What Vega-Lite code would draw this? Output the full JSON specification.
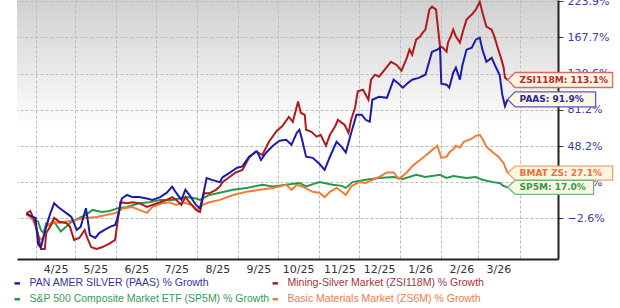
{
  "$schema": "https://vega.github.io/schema/vega-lite/v6.json",
  "width": 541,
  "height": 259,
  "autosize": {"type": "none"},
  "padding": {"left": 17, "top": 0, "right": 62, "bottom": 49},
  "background": "#ffffff",
  "config": {
    "view": {
      "stroke": null,
      "fill": {"gradient": "linear", "x1": 0, "y1": 0, "x2": 0, "y2": 1,
        "stops": [{"offset": 0, "color": "#d0d0d0"}, {"offset": 0.5, "color": "#ffffff"}, {"offset": 1, "color": "#ffffff"}]}
    }
  },
  "datasets": {
    "series": [
      {"s":"SP5M","t":"2025-03-25","v":0},{"s":"SP5M","t":"2025-03-30","v":-2.4},{"s":"SP5M","t":"2025-04-03","v":-4.8},{"s":"SP5M","t":"2025-04-05","v":-10},{"s":"SP5M","t":"2025-04-07","v":-12},{"s":"SP5M","t":"2025-04-09","v":-6},{"s":"SP5M","t":"2025-04-12","v":-7},{"s":"SP5M","t":"2025-04-15","v":-4.8},{"s":"SP5M","t":"2025-04-20","v":-11},{"s":"SP5M","t":"2025-04-24","v":-8},{"s":"SP5M","t":"2025-04-28","v":-4.8},{"s":"SP5M","t":"2025-05-04","v":-2.4},{"s":"SP5M","t":"2025-05-09","v":-0.6},{"s":"SP5M","t":"2025-05-14","v":2.4},{"s":"SP5M","t":"2025-05-21","v":1.2},{"s":"SP5M","t":"2025-05-27","v":1.8},{"s":"SP5M","t":"2025-06-02","v":3.5},{"s":"SP5M","t":"2025-06-09","v":4.2},{"s":"SP5M","t":"2025-06-18","v":6.6},{"s":"SP5M","t":"2025-06-26","v":7.2},{"s":"SP5M","t":"2025-07-04","v":8.7},{"s":"SP5M","t":"2025-07-13","v":8.7},{"s":"SP5M","t":"2025-07-24","v":10.5},{"s":"SP5M","t":"2025-07-31","v":9.6},{"s":"SP5M","t":"2025-08-03","v":8.7},{"s":"SP5M","t":"2025-08-10","v":11.9},{"s":"SP5M","t":"2025-08-18","v":13.4},{"s":"SP5M","t":"2025-08-28","v":15.3},{"s":"SP5M","t":"2025-09-07","v":16.6},{"s":"SP5M","t":"2025-09-19","v":18.7},{"s":"SP5M","t":"2025-09-27","v":17.6},{"s":"SP5M","t":"2025-10-07","v":18.7},{"s":"SP5M","t":"2025-10-17","v":20},{"s":"SP5M","t":"2025-10-22","v":17.6},{"s":"SP5M","t":"2025-11-01","v":20.6},{"s":"SP5M","t":"2025-11-11","v":18.7},{"s":"SP5M","t":"2025-11-18","v":18},{"s":"SP5M","t":"2025-11-21","v":16.6},{"s":"SP5M","t":"2025-11-26","v":20.6},{"s":"SP5M","t":"2025-12-06","v":22.2},{"s":"SP5M","t":"2025-12-16","v":23.5},{"s":"SP5M","t":"2025-12-27","v":24.2},{"s":"SP5M","t":"2026-01-03","v":22.9},{"s":"SP5M","t":"2026-01-13","v":25.8},{"s":"SP5M","t":"2026-01-20","v":24.2},{"s":"SP5M","t":"2026-01-31","v":25.8},{"s":"SP5M","t":"2026-02-05","v":23.5},{"s":"SP5M","t":"2026-02-10","v":24.9},{"s":"SP5M","t":"2026-02-20","v":23.5},{"s":"SP5M","t":"2026-02-27","v":24.2},{"s":"SP5M","t":"2026-03-04","v":22.2},{"s":"SP5M","t":"2026-03-12","v":20.6},{"s":"SP5M","t":"2026-03-17","v":20},{"s":"SP5M","t":"2026-03-20","v":17.9},{"s":"SP5M","t":"2026-03-23","v":17.0},
      {"s":"BMAT","t":"2025-03-25","v":0},{"s":"BMAT","t":"2025-03-30","v":-3.7},{"s":"BMAT","t":"2025-04-01","v":-7.4},{"s":"BMAT","t":"2025-04-03","v":-14.6},{"s":"BMAT","t":"2025-04-06","v":-16.6},{"s":"BMAT","t":"2025-04-09","v":-8},{"s":"BMAT","t":"2025-04-14","v":-4.8},{"s":"BMAT","t":"2025-04-19","v":-5.5},{"s":"BMAT","t":"2025-04-24","v":-4.8},{"s":"BMAT","t":"2025-05-01","v":-3.7},{"s":"BMAT","t":"2025-05-09","v":-2.4},{"s":"BMAT","t":"2025-05-17","v":-1.8},{"s":"BMAT","t":"2025-05-24","v":-0.6},{"s":"BMAT","t":"2025-06-01","v":0.6},{"s":"BMAT","t":"2025-06-06","v":3.5},{"s":"BMAT","t":"2025-06-13","v":4.2},{"s":"BMAT","t":"2025-06-18","v":2.4},{"s":"BMAT","t":"2025-06-24","v":0.6},{"s":"BMAT","t":"2025-06-28","v":4.2},{"s":"BMAT","t":"2025-07-06","v":6.6},{"s":"BMAT","t":"2025-07-11","v":7.2},{"s":"BMAT","t":"2025-07-16","v":5.5},{"s":"BMAT","t":"2025-07-21","v":7.2},{"s":"BMAT","t":"2025-07-28","v":5.5},{"s":"BMAT","t":"2025-08-01","v":2.4},{"s":"BMAT","t":"2025-08-05","v":5.5},{"s":"BMAT","t":"2025-08-10","v":7.2},{"s":"BMAT","t":"2025-08-18","v":8.7},{"s":"BMAT","t":"2025-08-28","v":11.9},{"s":"BMAT","t":"2025-09-07","v":14},{"s":"BMAT","t":"2025-09-17","v":15.3},{"s":"BMAT","t":"2025-09-27","v":16.6},{"s":"BMAT","t":"2025-10-07","v":18.7},{"s":"BMAT","t":"2025-10-11","v":15.3},{"s":"BMAT","t":"2025-10-15","v":18.7},{"s":"BMAT","t":"2025-10-19","v":17.6},{"s":"BMAT","t":"2025-10-27","v":14},{"s":"BMAT","t":"2025-11-01","v":13.4},{"s":"BMAT","t":"2025-11-05","v":10.5},{"s":"BMAT","t":"2025-11-09","v":14},{"s":"BMAT","t":"2025-11-14","v":16.6},{"s":"BMAT","t":"2025-11-19","v":13.4},{"s":"BMAT","t":"2025-11-21","v":11.9},{"s":"BMAT","t":"2025-11-25","v":17.6},{"s":"BMAT","t":"2025-12-01","v":20.6},{"s":"BMAT","t":"2025-12-06","v":20},{"s":"BMAT","t":"2025-12-11","v":22.2},{"s":"BMAT","t":"2025-12-16","v":24.2},{"s":"BMAT","t":"2025-12-22","v":27.5},{"s":"BMAT","t":"2025-12-27","v":27.5},{"s":"BMAT","t":"2025-12-31","v":22.9},{"s":"BMAT","t":"2026-01-06","v":27.5},{"s":"BMAT","t":"2026-01-10","v":32.1},{"s":"BMAT","t":"2026-01-15","v":36.2},{"s":"BMAT","t":"2026-01-20","v":40.3},{"s":"BMAT","t":"2026-01-25","v":44.8},{"s":"BMAT","t":"2026-01-29","v":48.4},{"s":"BMAT","t":"2026-02-01","v":38.6},{"s":"BMAT","t":"2026-02-05","v":39.5},{"s":"BMAT","t":"2026-02-07","v":42.9},{"s":"BMAT","t":"2026-02-10","v":45.5},{"s":"BMAT","t":"2026-02-12","v":48.4},{"s":"BMAT","t":"2026-02-15","v":46.9},{"s":"BMAT","t":"2026-02-18","v":51.8},{"s":"BMAT","t":"2026-02-24","v":54.4},{"s":"BMAT","t":"2026-02-27","v":56.9},{"s":"BMAT","t":"2026-03-02","v":57.8},{"s":"BMAT","t":"2026-03-04","v":54.4},{"s":"BMAT","t":"2026-03-07","v":47.6},{"s":"BMAT","t":"2026-03-12","v":42.9},{"s":"BMAT","t":"2026-03-16","v":39.5},{"s":"BMAT","t":"2026-03-20","v":34.6},{"s":"BMAT","t":"2026-03-22","v":29.4},{"s":"BMAT","t":"2026-03-23","v":27.1},
      {"s":"ZSI118M","t":"2025-03-25","v":0},{"s":"ZSI118M","t":"2025-03-28","v":1.8},{"s":"ZSI118M","t":"2025-03-31","v":-3.7},{"s":"ZSI118M","t":"2025-04-03","v":-13.3},{"s":"ZSI118M","t":"2025-04-05","v":-22.9},{"s":"ZSI118M","t":"2025-04-08","v":-22.9},{"s":"ZSI118M","t":"2025-04-09","v":-12},{"s":"ZSI118M","t":"2025-04-12","v":-8},{"s":"ZSI118M","t":"2025-04-15","v":-2.4},{"s":"ZSI118M","t":"2025-04-19","v":-4.8},{"s":"ZSI118M","t":"2025-04-24","v":-5.5},{"s":"ZSI118M","t":"2025-04-27","v":-8},{"s":"ZSI118M","t":"2025-04-30","v":-16.6},{"s":"ZSI118M","t":"2025-05-04","v":-15.3},{"s":"ZSI118M","t":"2025-05-08","v":-10},{"s":"ZSI118M","t":"2025-05-10","v":-15.3},{"s":"ZSI118M","t":"2025-05-13","v":-21.7},{"s":"ZSI118M","t":"2025-05-17","v":-22.9},{"s":"ZSI118M","t":"2025-05-21","v":-21.7},{"s":"ZSI118M","t":"2025-05-27","v":-19},{"s":"ZSI118M","t":"2025-05-31","v":-16.6},{"s":"ZSI118M","t":"2025-06-02","v":-3.7},{"s":"ZSI118M","t":"2025-06-04","v":7.2},{"s":"ZSI118M","t":"2025-06-09","v":6.6},{"s":"ZSI118M","t":"2025-06-13","v":7.2},{"s":"ZSI118M","t":"2025-06-18","v":6.6},{"s":"ZSI118M","t":"2025-06-24","v":4.2},{"s":"ZSI118M","t":"2025-06-28","v":5.5},{"s":"ZSI118M","t":"2025-07-04","v":7.2},{"s":"ZSI118M","t":"2025-07-09","v":8.7},{"s":"ZSI118M","t":"2025-07-13","v":10.5},{"s":"ZSI118M","t":"2025-07-16","v":8.7},{"s":"ZSI118M","t":"2025-07-20","v":5.5},{"s":"ZSI118M","t":"2025-07-23","v":10.5},{"s":"ZSI118M","t":"2025-07-26","v":7.2},{"s":"ZSI118M","t":"2025-07-31","v":2.4},{"s":"ZSI118M","t":"2025-08-03","v":1.2},{"s":"ZSI118M","t":"2025-08-06","v":13},{"s":"ZSI118M","t":"2025-08-10","v":13},{"s":"ZSI118M","t":"2025-08-15","v":15.3},{"s":"ZSI118M","t":"2025-08-18","v":17.6},{"s":"ZSI118M","t":"2025-08-20","v":20.6},{"s":"ZSI118M","t":"2025-08-25","v":24},{"s":"ZSI118M","t":"2025-08-30","v":27.5},{"s":"ZSI118M","t":"2025-09-04","v":29.4},{"s":"ZSI118M","t":"2025-09-09","v":38.6},{"s":"ZSI118M","t":"2025-09-14","v":43.8},{"s":"ZSI118M","t":"2025-09-19","v":41},{"s":"ZSI118M","t":"2025-09-24","v":51.8},{"s":"ZSI118M","t":"2025-09-30","v":61.4},{"s":"ZSI118M","t":"2025-10-04","v":65.4},{"s":"ZSI118M","t":"2025-10-09","v":74.3},{"s":"ZSI118M","t":"2025-10-12","v":69.6},{"s":"ZSI118M","t":"2025-10-16","v":89.6},{"s":"ZSI118M","t":"2025-10-18","v":78.3},{"s":"ZSI118M","t":"2025-10-21","v":76.3},{"s":"ZSI118M","t":"2025-10-22","v":62.3},{"s":"ZSI118M","t":"2025-10-26","v":60.5},{"s":"ZSI118M","t":"2025-10-30","v":56.2},{"s":"ZSI118M","t":"2025-11-02","v":57.8},{"s":"ZSI118M","t":"2025-11-06","v":48.4},{"s":"ZSI118M","t":"2025-11-09","v":57.8},{"s":"ZSI118M","t":"2025-11-13","v":65.4},{"s":"ZSI118M","t":"2025-11-15","v":71.5},{"s":"ZSI118M","t":"2025-11-18","v":68.6},{"s":"ZSI118M","t":"2025-11-20","v":66.9},{"s":"ZSI118M","t":"2025-11-23","v":59.5},{"s":"ZSI118M","t":"2025-11-25","v":71.5},{"s":"ZSI118M","t":"2025-11-28","v":83.5},{"s":"ZSI118M","t":"2025-11-30","v":100.6},{"s":"ZSI118M","t":"2025-12-04","v":102.2},{"s":"ZSI118M","t":"2025-12-08","v":91.5},{"s":"ZSI118M","t":"2025-12-10","v":113.5},{"s":"ZSI118M","t":"2025-12-13","v":119.3},{"s":"ZSI118M","t":"2025-12-16","v":117},{"s":"ZSI118M","t":"2025-12-22","v":128.8},{"s":"ZSI118M","t":"2025-12-25","v":135},{"s":"ZSI118M","t":"2025-12-29","v":131.4},{"s":"ZSI118M","t":"2026-01-02","v":124},{"s":"ZSI118M","t":"2026-01-06","v":140.1},{"s":"ZSI118M","t":"2026-01-08","v":150.7},{"s":"ZSI118M","t":"2026-01-10","v":144.1},{"s":"ZSI118M","t":"2026-01-13","v":164.4},{"s":"ZSI118M","t":"2026-01-16","v":168.6},{"s":"ZSI118M","t":"2026-01-18","v":174.3},{"s":"ZSI118M","t":"2026-01-20","v":178.8},{"s":"ZSI118M","t":"2026-01-23","v":209.7},{"s":"ZSI118M","t":"2026-01-25","v":214.5},{"s":"ZSI118M","t":"2026-01-28","v":209.7},{"s":"ZSI118M","t":"2026-01-31","v":155},{"s":"ZSI118M","t":"2026-02-02","v":153.4},{"s":"ZSI118M","t":"2026-02-05","v":148},{"s":"ZSI118M","t":"2026-02-06","v":160.2},{"s":"ZSI118M","t":"2026-02-08","v":168.6},{"s":"ZSI118M","t":"2026-02-10","v":178.8},{"s":"ZSI118M","t":"2026-02-12","v":168.6},{"s":"ZSI118M","t":"2026-02-15","v":160.2},{"s":"ZSI118M","t":"2026-02-17","v":174.3},{"s":"ZSI118M","t":"2026-02-20","v":193.8},{"s":"ZSI118M","t":"2026-02-24","v":201.7},{"s":"ZSI118M","t":"2026-02-27","v":209.7},{"s":"ZSI118M","t":"2026-03-02","v":222.5},{"s":"ZSI118M","t":"2026-03-04","v":204.9},{"s":"ZSI118M","t":"2026-03-07","v":183.2},{"s":"ZSI118M","t":"2026-03-11","v":178.8},{"s":"ZSI118M","t":"2026-03-13","v":168.6},{"s":"ZSI118M","t":"2026-03-16","v":150.7},{"s":"ZSI118M","t":"2026-03-18","v":140},{"s":"ZSI118M","t":"2026-03-20","v":128},{"s":"ZSI118M","t":"2026-03-21","v":116},{"s":"ZSI118M","t":"2026-03-23","v":113.1},
      {"s":"PAAS","t":"2025-03-25","v":0},{"s":"PAAS","t":"2025-03-30","v":-1.8},{"s":"PAAS","t":"2025-04-01","v":-2.4},{"s":"PAAS","t":"2025-04-03","v":-20},{"s":"PAAS","t":"2025-04-05","v":-21.7},{"s":"PAAS","t":"2025-04-07","v":-14.6},{"s":"PAAS","t":"2025-04-09","v":-8},{"s":"PAAS","t":"2025-04-12","v":0},{"s":"PAAS","t":"2025-04-15","v":6.6},{"s":"PAAS","t":"2025-04-18","v":4.2},{"s":"PAAS","t":"2025-04-21","v":2.4},{"s":"PAAS","t":"2025-04-25","v":0},{"s":"PAAS","t":"2025-04-28","v":-1.8},{"s":"PAAS","t":"2025-05-02","v":-10},{"s":"PAAS","t":"2025-05-05","v":-8},{"s":"PAAS","t":"2025-05-09","v":3.5},{"s":"PAAS","t":"2025-05-12","v":-13.3},{"s":"PAAS","t":"2025-05-16","v":-15.3},{"s":"PAAS","t":"2025-05-19","v":-12},{"s":"PAAS","t":"2025-05-23","v":-10},{"s":"PAAS","t":"2025-05-27","v":-8},{"s":"PAAS","t":"2025-05-31","v":-6.8},{"s":"PAAS","t":"2025-06-02","v":-1.8},{"s":"PAAS","t":"2025-06-05","v":9.6},{"s":"PAAS","t":"2025-06-09","v":11.9},{"s":"PAAS","t":"2025-06-13","v":10.5},{"s":"PAAS","t":"2025-06-18","v":10.5},{"s":"PAAS","t":"2025-06-24","v":9.6},{"s":"PAAS","t":"2025-06-28","v":8.7},{"s":"PAAS","t":"2025-07-04","v":10.5},{"s":"PAAS","t":"2025-07-09","v":13.4},{"s":"PAAS","t":"2025-07-13","v":17.5},{"s":"PAAS","t":"2025-07-16","v":13.4},{"s":"PAAS","t":"2025-07-20","v":8.7},{"s":"PAAS","t":"2025-07-23","v":15.3},{"s":"PAAS","t":"2025-07-26","v":11.9},{"s":"PAAS","t":"2025-07-31","v":5.5},{"s":"PAAS","t":"2025-08-03","v":3.5},{"s":"PAAS","t":"2025-08-05","v":10.5},{"s":"PAAS","t":"2025-08-08","v":23.5},{"s":"PAAS","t":"2025-08-12","v":22.2},{"s":"PAAS","t":"2025-08-18","v":20.6},{"s":"PAAS","t":"2025-08-20","v":24},{"s":"PAAS","t":"2025-08-25","v":27},{"s":"PAAS","t":"2025-08-31","v":31},{"s":"PAAS","t":"2025-09-04","v":32},{"s":"PAAS","t":"2025-09-09","v":39.5},{"s":"PAAS","t":"2025-09-15","v":43.8},{"s":"PAAS","t":"2025-09-18","v":37},{"s":"PAAS","t":"2025-09-22","v":42.9},{"s":"PAAS","t":"2025-09-27","v":48.4},{"s":"PAAS","t":"2025-10-02","v":52.6},{"s":"PAAS","t":"2025-10-07","v":53.5},{"s":"PAAS","t":"2025-10-11","v":49.2},{"s":"PAAS","t":"2025-10-15","v":59.5},{"s":"PAAS","t":"2025-10-17","v":62.3},{"s":"PAAS","t":"2025-10-19","v":53.5},{"s":"PAAS","t":"2025-10-22","v":39.5},{"s":"PAAS","t":"2025-10-27","v":38.6},{"s":"PAAS","t":"2025-11-01","v":34},{"s":"PAAS","t":"2025-11-05","v":29.4},{"s":"PAAS","t":"2025-11-09","v":39.5},{"s":"PAAS","t":"2025-11-14","v":51.8},{"s":"PAAS","t":"2025-11-18","v":47.3},{"s":"PAAS","t":"2025-11-21","v":42.9},{"s":"PAAS","t":"2025-11-25","v":59.5},{"s":"PAAS","t":"2025-11-29","v":76.3},{"s":"PAAS","t":"2025-12-03","v":76.3},{"s":"PAAS","t":"2025-12-06","v":71.5},{"s":"PAAS","t":"2025-12-09","v":69.6},{"s":"PAAS","t":"2025-12-11","v":91.5},{"s":"PAAS","t":"2025-12-16","v":94.6},{"s":"PAAS","t":"2025-12-22","v":93.5},{"s":"PAAS","t":"2025-12-27","v":113.5},{"s":"PAAS","t":"2025-12-30","v":110},{"s":"PAAS","t":"2026-01-03","v":104.4},{"s":"PAAS","t":"2026-01-07","v":110},{"s":"PAAS","t":"2026-01-10","v":113.5},{"s":"PAAS","t":"2026-01-15","v":115.6},{"s":"PAAS","t":"2026-01-20","v":119.3},{"s":"PAAS","t":"2026-01-25","v":148},{"s":"PAAS","t":"2026-01-29","v":150.7},{"s":"PAAS","t":"2026-01-31","v":153.4},{"s":"PAAS","t":"2026-02-01","v":109},{"s":"PAAS","t":"2026-02-05","v":107.8},{"s":"PAAS","t":"2026-02-07","v":104.4},{"s":"PAAS","t":"2026-02-10","v":121.7},{"s":"PAAS","t":"2026-02-12","v":127.8},{"s":"PAAS","t":"2026-02-15","v":113.5},{"s":"PAAS","t":"2026-02-17","v":131.4},{"s":"PAAS","t":"2026-02-20","v":150.7},{"s":"PAAS","t":"2026-02-24","v":153.4},{"s":"PAAS","t":"2026-02-27","v":164.4},{"s":"PAAS","t":"2026-03-02","v":167.2},{"s":"PAAS","t":"2026-03-04","v":150.7},{"s":"PAAS","t":"2026-03-07","v":135},{"s":"PAAS","t":"2026-03-11","v":140},{"s":"PAAS","t":"2026-03-14","v":128.8},{"s":"PAAS","t":"2026-03-17","v":119},{"s":"PAAS","t":"2026-03-19","v":96.8},{"s":"PAAS","t":"2026-03-21","v":85},{"s":"PAAS","t":"2026-03-23","v":91.9}
    ],
    "ends": [
      {"s":"ZSI118M","t":"2026-03-23","v":113.1,"label":"ZSI118M: 113.1%"},
      {"s":"PAAS","t":"2026-03-23","v":91.9,"label":"PAAS: 91.9%"},
      {"s":"BMAT","t":"2026-03-23","v":27.1,"label":"BMAT ZS: 27.1%"},
      {"s":"SP5M","t":"2026-03-23","v":17.0,"label":"SP5M: 17.0%"}
    ]
  },
  "layer": [
    {
      "data": {"name": "series"},
      "mark": {"type": "line", "strokeWidth": 2, "interpolate": "linear"},
      "encoding": {
        "x": {"field": "t", "type": "temporal", "title": null,
          "scale": {"type": "utc", "domain": [{"year": 2025, "month": 3, "date": 18, "utc": true}, {"year": 2026, "month": 4, "date": 30, "utc": true}]},
          "axis": {
            "values": [
              {"year": 2025, "month": 4, "date": 1, "utc": true}, {"year": 2025, "month": 5, "date": 1, "utc": true}, {"year": 2025, "month": 6, "date": 1, "utc": true},
              {"year": 2025, "month": 7, "date": 1, "utc": true}, {"year": 2025, "month": 8, "date": 1, "utc": true}, {"year": 2025, "month": 9, "date": 1, "utc": true},
              {"year": 2025, "month": 10, "date": 1, "utc": true}, {"year": 2025, "month": 11, "date": 1, "utc": true}, {"year": 2025, "month": 12, "date": 1, "utc": true},
              {"year": 2026, "month": 1, "date": 1, "utc": true}, {"year": 2026, "month": 2, "date": 1, "utc": true}, {"year": 2026, "month": 3, "date": 1, "utc": true},
              {"year": 2026, "month": 4, "date": 1, "utc": true}
            ],
            "labelExpr": "utcFormat(datum.value, '%-m/%y') == '4/26' ? '' : utcFormat(datum.value, '%-m/%y')",
            "labelOffset": 20, "labelFont": "DejaVu Sans", "labelFontSize": 11, "labelColor": "#333333",
            "labelPadding": 4, "ticks": false, "tickSize": 0, "labelOverlap": false, "labelFlush": false,
            "grid": true, "gridColor": "#bcbcbc", "gridDash": [3, 2], "gridWidth": 1,
            "domainColor": "#222222", "domainWidth": 2
          }
        },
        "y": {"field": "v", "type": "quantitative", "title": null,
          "scale": {"type": "symlog", "constant": 123, "domain": [-30.2, 225.6], "nice": false, "zero": false},
          "axis": {
            "orient": "right",
            "values": [-2.6, 20.6, 48.2, 81.2, 120.6, 167.7, 223.9],
            "labelExpr": "format(datum.value, '.1f') + '%'",
            "labelFont": "DejaVu Sans", "labelFontSize": 11, "labelColor": "#3a3aa8", "labelPadding": 4,
            "tickSize": 5, "tickColor": "#333333", "labelOverlap": false, "labelFlush": false,
            "grid": true, "gridColor": "#bcbcbc", "gridDash": [3, 2], "gridWidth": 1,
            "domainColor": "#222222", "domainWidth": 2
          }
        },
        "color": {"field": "s", "type": "nominal",
          "scale": {"domain": ["PAAS", "ZSI118M", "SP5M", "BMAT"], "range": ["#1c1ca8", "#b01a1a", "#25984a", "#f57a32"]},
          "legend": {
            "orient": "none", "legendX": -5, "legendY": 278, "direction": "horizontal", "columns": 2,
            "title": null, "symbolType": "stroke", "symbolSize": 30, "symbolStrokeWidth": 2.5,
            "labelFont": "Liberation Sans", "labelFontSize": 10.5, "labelOffset": 7, "labelLimit": 400,
            "columnPadding": -3, "rowPadding": 5,
            "labelExpr": "datum.value == 'PAAS' ? 'PAN AMER SILVER (PAAS) % Growth' : datum.value == 'ZSI118M' ? 'Mining-Silver Market (ZSI118M) % Growth' : datum.value == 'SP5M' ? 'S&P 500 Composite Market ETF (SP5M) % Growth' : 'Basic Materials Market (ZS6M) % Growth'",
            "labelColor": {"expr": "datum.value == 'PAAS' ? '#34349e' : datum.value == 'ZSI118M' ? '#a8323c' : datum.value == 'SP5M' ? '#3a9a5a' : '#ee7a48'"}
          }
        }
      }
    },
    {
      "data": {"name": "ends"},
      "mark": {"type": "point", "filled": true, "fill": "#fdf6e2", "opacity": 1, "strokeWidth": 1.3, "size": 400},
      "encoding": {
        "x": {"field": "t", "type": "temporal"},
        "y": {"field": "v", "type": "quantitative"},
        "shape": {"field": "s", "type": "nominal", "legend": null,
          "scale": {"domain": ["ZSI118M", "PAAS", "BMAT", "SP5M"],
            "range": ["M0,0L0.75,-0.75L10.5,-0.75L10.5,0.75L0.75,0.75Z", "M0,0L0.75,-0.75L8.8,-0.75L8.8,0.75L0.75,0.75Z", "M0,0L0.75,-0.7L10.5,-0.7L10.5,0.7L0.75,0.7Z", "M0,0L0.75,-0.7L8.6,-0.7L8.6,0.7L0.75,0.7Z"]}},
        "stroke": {"field": "s", "type": "nominal", "legend": null,
          "scale": {"domain": ["ZSI118M", "PAAS", "BMAT", "SP5M"], "range": ["#d46a6a", "#5a5ac8", "#f3a070", "#6cba80"]}}
      }
    },
    {
      "data": {"name": "ends"},
      "mark": {"type": "text", "align": "left", "baseline": "middle", "dx": 12, "font": "DejaVu Sans", "fontWeight": "bold", "fontSize": 9},
      "encoding": {
        "x": {"field": "t", "type": "temporal"},
        "y": {"field": "v", "type": "quantitative"},
        "text": {"field": "label"},
        "fill": {"field": "s", "type": "nominal", "legend": null,
          "scale": {"domain": ["ZSI118M", "PAAS", "BMAT", "SP5M"], "range": ["#b52a2a", "#2a2aa0", "#ee7036", "#2f9a4a"]}}
      }
    }
  ]
}
